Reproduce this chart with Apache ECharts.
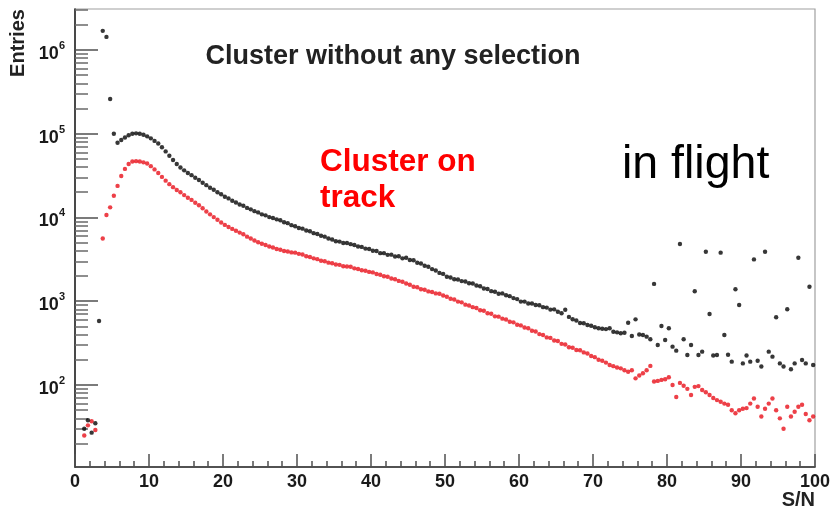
<!DOCTYPE html>
<html>
<head>
<meta charset="utf-8">
<script src="https://cdn.jsdelivr.net/npm/echarts@6/dist/echarts.min.js"></script>
<style>
  html, body { margin: 0; padding: 0; background: #fff; }
  #chart { width: 834px; height: 512px; }
</style>
</head>
<body>
<div id="chart"></div>
<script>
// Histogram binning of S/N: 200 bins from 0 to 100
const binLow = 0;
const binWidth = 0.5;

// Entries per bin, all clusters (null = empty bin)
const allClusters = [
  null, null, 30, 38, 27, 35, 580, 1690000, 1430000, 260000,
  100000, 78000, 84000, 90000, 96000, 100000, 101000, 100000, 97000, 93000,
  88000, 82000, 76500, 69000, 61500, 54500, 48500, 43500, 39500, 36500,
  34000, 32000, 29800, 28000, 26000, 24300, 22600, 21400, 20000, 18900,
  17700, 16900, 15800, 15100, 14300, 13800, 13000, 12500, 11900, 11500,
  10900, 10600, 10100, 9850, 9500, 9250, 8750, 8550, 8100, 7850,
  7500, 7350, 7000, 6850, 6500, 6350, 6050, 5900, 5600, 5450,
  5200, 5150, 4950, 4950, 4800, 4700, 4500, 4450, 4250, 4200,
  4000, 3980, 3750, 3750, 3580, 3600, 3420, 3450, 3250, 3300,
  3100, 3080, 2880, 2820, 2650, 2580, 2420, 2330, 2180, 2120,
  1960, 1920, 1830, 1820, 1740, 1720, 1640, 1630, 1540, 1510,
  1420, 1400, 1320, 1300, 1230, 1240, 1180, 1150, 1090, 1060,
  990, 990, 940, 940, 900, 895, 850, 840, 795, 800,
  750, 720, 790, 650, 610, 590, 550, 545, 520, 510,
  490, 475, 470, 465, 475, 433, 425, 415, 421, 554,
  385, 608, 400, 395, 378, 351, 1610, 300, 506, 344,
  475, 287, 257, 4830, 351, 228, 300, 1315, 228, 250,
  3890, 705, 225, 228, 3800, 395, 230, 190, 1390, 900,
  181, 225, 190, 3160, 195, 166, 3890, 250, 218, 643,
  181, 166, 802, 154, 181, 3310, 199, 181, 1490, 173
];

// Entries per bin, clusters on track
const onTrack = [
  null, null, 25, 33, 37, 29, null, 5600, 10700, 13200,
  18200, 23800, 31300, 38000, 43500, 46500, 47000, 46500, 45500, 44000,
  41000, 37500, 34000, 30500, 27500, 25000, 23000, 21300, 20000, 18500,
  17200, 16200, 15000, 14000, 12900, 11800, 10900, 10100, 9400, 8700,
  8150, 7700, 7300, 6950, 6600, 6300, 5900, 5600, 5300, 5050,
  4850, 4700, 4500, 4380, 4200, 4120, 3980, 3920, 3830, 3800,
  3680, 3620, 3450, 3380, 3250, 3180, 3040, 3000, 2890, 2840,
  2740, 2720, 2620, 2600, 2580, 2470, 2430, 2340, 2310, 2240,
  2210, 2110, 2070, 1990, 1960, 1870, 1830, 1750, 1710, 1630,
  1570, 1490, 1470, 1390, 1370, 1310, 1290, 1240, 1230, 1170,
  1130, 1070, 1050, 990, 970, 910, 890, 850, 830, 780,
  770, 720, 710, 660, 655, 620, 605, 570, 560, 525,
  515, 485, 475, 445, 435, 405, 395, 370, 365, 340,
  335, 310, 305, 282, 278, 262, 260, 245, 238, 222,
  215, 200, 195, 185, 173, 168, 162, 158, 150, 144,
  150, 120, 130, 138, 150, 169, 110, 112, 115, 117,
  124, 100, 72, 106, 98, 90, 76, 95, 97, 87,
  82, 76, 70, 66, 63, 60, 58, 50, 46, 50,
  52, 53, 60, 69, 55, 42, 52, 60, 69, 50,
  40, 30, 55, 42, 48, 55, 58, 45, 38, 42
];

// Axis ticks
const yDecades = [100, 1000, 10000, 100000, 1000000];
const yMinorSteps = [2, 3, 4, 5, 6, 7, 8, 9];
const yMinorTicks = [];
[10, 100, 1000, 10000, 100000, 1000000].forEach(d =>
  yMinorSteps.forEach(s => { if (d * s <= 3.08e6) yMinorTicks.push(d * s); })
);

function toPoints(counts) {
  const pts = [];
  counts.forEach((v, i) => {
    if (v != null) pts.push([binLow + (i + 0.5) * binWidth, v]);
  });
  return pts;
}

const FONT = "'Liberation Sans', Arial, Helvetica, sans-serif";
const axisGrey = '#2a2a2a';
const tickGrey = '#505050';

const chart = echarts.init(document.getElementById('chart'), null, { renderer: 'canvas' });

chart.setOption({
  animation: false,
  backgroundColor: '#fff',
  grid: {
    left: 75, right: 19, top: 9, bottom: 45,
    show: true, borderColor: '#a0a0a0', borderWidth: 1.2, backgroundColor: 'transparent'
  },
  xAxis: {
    type: 'value', min: 0, max: 100, interval: 10,
    axisLine: { show: true, onZero: false, lineStyle: { color: axisGrey, width: 1.6 } },
    axisTick: { show: true, inside: true, length: 13, lineStyle: { color: tickGrey, width: 1.5 } },
    minorTick: { show: true, splitNumber: 5, length: 6, lineStyle: { color: tickGrey, width: 1.5 } },
    splitLine: { show: false },
    axisLabel: {
      margin: 6, color: '#1a1a1a', fontFamily: FONT, fontWeight: 'bold', fontSize: 18
    }
  },
  yAxis: [
    {
      type: 'log', logBase: 10, min: 10.5, max: 3.08e6,
      axisLine: { show: true, lineStyle: { color: axisGrey, width: 1.6 } },
      axisTick: { show: true, inside: true, length: 23, customValues: yDecades,
        lineStyle: { color: tickGrey, width: 1.5 } },
      splitLine: { show: false },
      axisLabel: {
        customValues: yDecades,
        margin: 10,
        formatter: v => '{b|10}{s|' + Math.round(Math.log10(v)) + '}',
        rich: {
          b: { fontFamily: FONT, fontWeight: 'bold', fontSize: 18, color: '#1a1a1a', padding: [8, 0, 0, 0] },
          s: { fontFamily: FONT, fontWeight: 'bold', fontSize: 11, color: '#1a1a1a', padding: [0, 0, 8, 0] }
        }
      }
    },
    {
      type: 'log', logBase: 10, min: 10.5, max: 3.08e6, position: 'left',
      axisLine: { show: false },
      axisTick: { show: true, inside: true, length: 13, customValues: yMinorTicks,
        lineStyle: { color: '#6a6a6a', width: 1.5 } },
      splitLine: { show: false },
      axisLabel: { show: false }
    }
  ],
  series: [
    {
      name: 'all clusters', type: 'scatter', symbol: 'circle', symbolSize: 4.4,
      itemStyle: { color: '#050505' },
      data: toPoints(allClusters), z: 3
    },
    {
      name: 'clusters on track', type: 'scatter', symbol: 'circle', symbolSize: 4.4,
      itemStyle: { color: '#e8101a' },
      data: toPoints(onTrack), z: 2
    }
  ],
  graphic: [
    {
      type: 'text', x: 393, y: 57,
      style: { text: 'Cluster without any selection', fill: '#222', font: 'bold 27px ' + FONT,
        align: 'center', verticalAlign: 'middle' }
    },
    {
      type: 'text', x: 320, y: 144,
      style: { text: 'Cluster on\ntrack', fill: '#f00', font: 'bold 31.5px ' + FONT,
        lineHeight: 36, align: 'left', verticalAlign: 'top' }
    },
    {
      type: 'text', x: 622, y: 165,
      style: { text: 'in flight', fill: '#000', font: '46.5px ' + FONT,
        align: 'left', verticalAlign: 'middle' }
    },
    {
      type: 'text', x: 18, y: 43, rotation: Math.PI / 2,
      style: { text: 'Entries', fill: '#222', font: 'bold 20px ' + FONT,
        align: 'center', verticalAlign: 'middle' }
    },
    {
      type: 'text', x: 815, y: 500,
      style: { text: 'S/N', fill: '#222', font: 'bold 20px ' + FONT,
        align: 'right', verticalAlign: 'middle' }
    }
  ]
});
</script>
</body>
</html>
